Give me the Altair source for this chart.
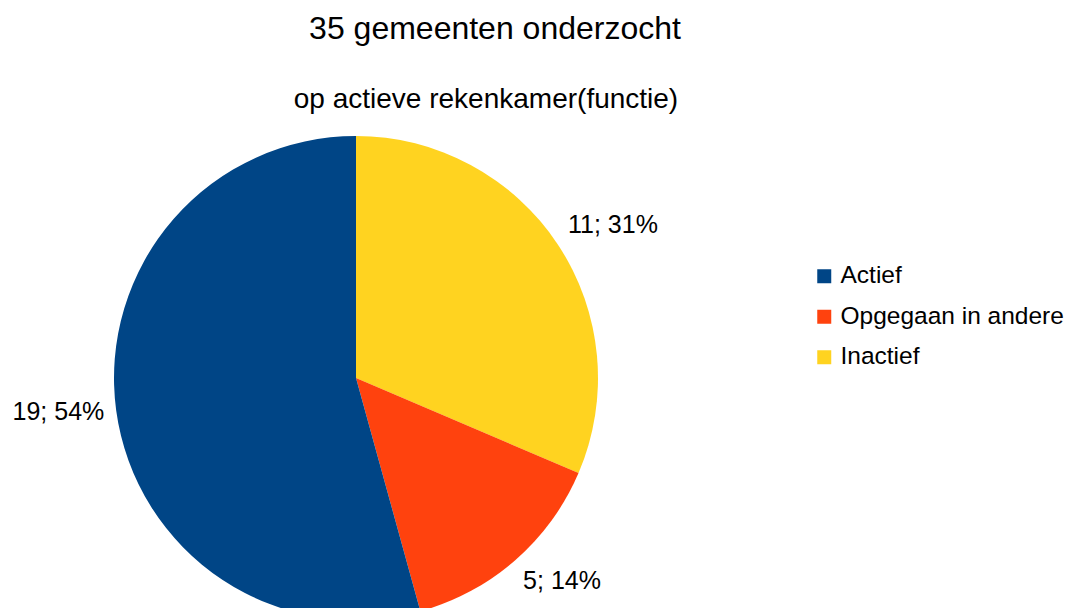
import altair as alt
import pandas as pd

title_text = "35 gemeenten onderzocht"
subtitle_text = "op actieve rekenkamer(functie)"
categories = ["Inactief", "Opgegaan in andere", "Actief"]
counts = [11, 5, 19]
stack_order = [0, 1, 2]
legend_order = ["Actief", "Opgegaan in andere", "Inactief"]
colors = ["#004586", "#ff420e", "#ffd320"]

FONT = "Liberation Sans"
CX, CY = 348, 370

df = pd.DataFrame({"category": categories, "count": counts, "order": stack_order})

base = (
    alt.Chart(df)
    .transform_window(cum="sum(count)", sort=[alt.SortField("order")], frame=[None, 0])
    .transform_joinaggregate(total="sum(count)")
    .transform_calculate(
        start="(datum.cum - datum.count) / datum.total",
        end="datum.cum / datum.total",
        mid="(datum.cum - datum.count / 2) / datum.total",
        label="datum.count + '; ' + round(datum.count / datum.total * 100) + '%'",
    )
)

theta_scale = alt.Scale(domain=[0, 1], range=[0, 6.283185307179586])

arcs = base.mark_arc(radius=242).encode(
    theta=alt.Theta("start:Q", scale=theta_scale),
    theta2="end:Q",
    color=alt.Color(
        "category:N",
        scale=alt.Scale(domain=legend_order, range=colors),
        legend=alt.Legend(
            title=None,
            orient="none",
            legendX=804,
            legendY=256,
            symbolType="square",
            symbolSize=196,
            symbolStrokeWidth=0,
            labelFontSize=24.5,
            labelFont=FONT,
            labelColor="#000000",
            labelOffset=4,
            labelLimit=400,
            rowPadding=15.5,
            padding=0,
        ),
    ),
    x=alt.value(CX),
    y=alt.value(CY),
)


def label_layer(cat, align, baseline):
    return (
        base.transform_filter(alt.datum.category == cat)
        .mark_text(radius=254, align=align, baseline=baseline, fontSize=25, font=FONT, color="#000000")
        .encode(
            theta=alt.Theta("mid:Q", scale=theta_scale),
            text="label:N",
            x=alt.value(CX),
            y=alt.value(CY),
        )
    )


labels = [
    label_layer("Inactief", "left", "bottom"),
    label_layer("Opgegaan in andere", "left", "top"),
    label_layer("Actief", "right", "middle"),
]

title = alt.Chart(pd.DataFrame({"t": [title_text]})).mark_text(
    fontSize=32, font=FONT, align="center", baseline="alphabetic", color="#000000"
).encode(text="t:N", x=alt.value(487), y=alt.value(31))

subtitle = alt.Chart(pd.DataFrame({"t": [subtitle_text]})).mark_text(
    fontSize=28, font=FONT, align="center", baseline="alphabetic", color="#000000"
).encode(text="t:N", x=alt.value(478), y=alt.value(100))

chart = (
    alt.layer(arcs, *labels, title, subtitle)
    .properties(width=1056, height=600, autosize=alt.AutoSizeParams(type="none"), padding=0, background="white")
    .configure_view(stroke=None)
)

chart.save("out.html", embed_options={"renderer": "svg", "actions": False})
